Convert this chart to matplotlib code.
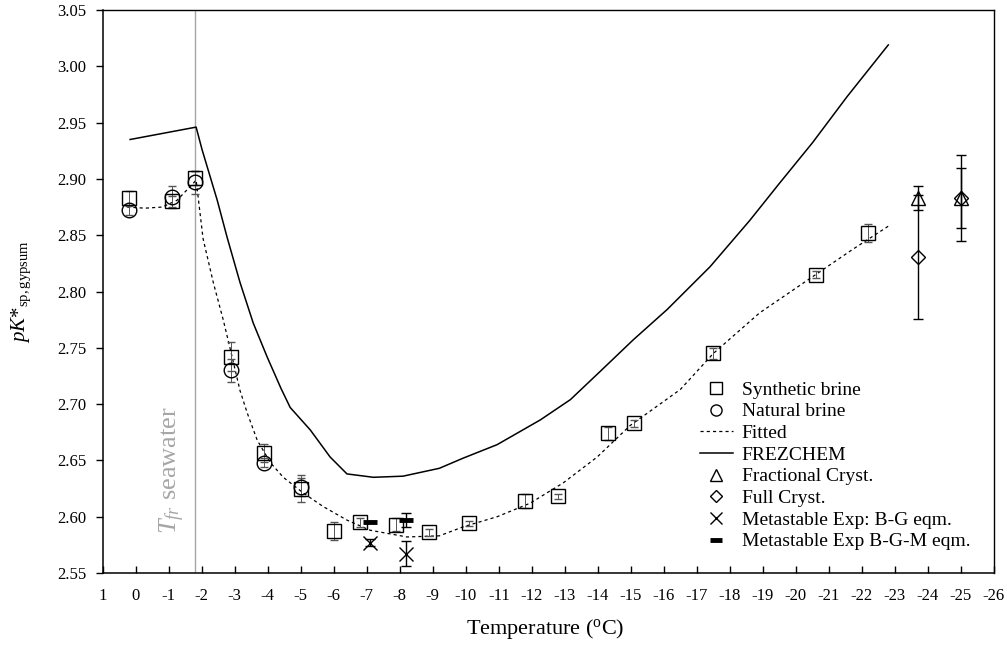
import matplotlib
matplotlib.use("Agg")
import matplotlib.pyplot as plt
from matplotlib.lines import Line2D

plt.rcParams['font.family'] = ['Liberation Serif', 'DejaVu Serif']
plt.rcParams['mathtext.fontset'] = 'custom'
plt.rcParams['mathtext.rm'] = 'Liberation Serif'
plt.rcParams['mathtext.it'] = 'Liberation Serif:italic'
plt.rcParams['mathtext.bf'] = 'Liberation Serif:bold'

# ---------------- data ----------------
syn_T = [0.2, -1.1, -1.8, -2.9, -3.9, -5.0, -6.0, -6.8, -7.9, -8.9, -10.1, -11.8,
         -12.8, -14.3, -15.1, -17.5, -20.6, -22.2]
syn_pK = [2.883, 2.880, 2.901, 2.742, 2.657, 2.625, 2.587, 2.595, 2.593, 2.586, 2.594,
          2.614, 2.618, 2.674, 2.683, 2.745, 2.815, 2.852]
syn_err = [0.006, 0.005, 0.006, 0.013, 0.008, 0.012, 0.008, 0.004, 0.006, 0.003, 0.002,
           0.006, 0.002, 0.006, 0.003, 0.005, 0.003, 0.008]

nat_T = [0.2, -1.1, -1.8, -2.9, -3.9, -5.0]
nat_pK = [2.872, 2.884, 2.897, 2.730, 2.648, 2.626]
nat_err = [0.004, 0.010, 0.010, 0.010, 0.004, 0.008]

frac_T = [-23.7, -25.0]
frac_pK = [2.883, 2.883]
frac_err = [0.011, 0.027]

full_T = [-23.7, -25.0]
full_pK = [2.831, 2.883]
full_err = [0.055, 0.038]

bg_T = [-7.1, -8.2]
bg_pK = [2.577, 2.567]
bg_err = [0.003, 0.011]

bgm_T = [-7.1, -8.2]
bgm_pK = [2.595, 2.597]
bgm_err = [0.0, 0.006]

fit_T = [0.26, -0.28, -0.80, -1.25, -1.74, -1.83, -2.04, -2.35, -2.65, -2.92, -3.16,
         -3.38, -3.68, -4.08, -4.47, -5.08, -5.68, -6.4, -7.1, -8.22, -9.2, -9.92,
         -10.95, -11.95, -12.95, -13.98, -14.98, -16.5, -17.5, -18.9, -20.5, -21.7, -22.8]
fit_pK = [2.875, 2.874, 2.875, 2.881, 2.896, 2.899, 2.847, 2.808, 2.775, 2.742, 2.712,
          2.692, 2.668, 2.648, 2.635, 2.621, 2.609, 2.597, 2.588, 2.582, 2.583, 2.591,
          2.600, 2.612, 2.630, 2.653, 2.681, 2.713, 2.745, 2.781, 2.813, 2.837, 2.858]

frz_T = [0.17, -1.83, -2.01, -2.47, -2.77, -3.16, -3.56, -3.98, -4.40, -4.68, -5.29,
         -5.89, -6.4, -7.2, -8.1, -9.2, -9.92, -10.95, -12.26, -13.17, -14.07, -15.07,
         -16.1, -17.4, -18.6, -19.5, -20.5, -21.55, -22.8]
frz_pK = [2.935, 2.946, 2.926, 2.881, 2.848, 2.808, 2.772, 2.742, 2.714, 2.697, 2.677,
          2.653, 2.638, 2.635, 2.636, 2.643, 2.652, 2.664, 2.686, 2.704, 2.729, 2.757,
          2.784, 2.822, 2.863, 2.896, 2.932, 2.973, 3.019]

T_fr = -1.81
x_ticks = list(range(1, -27, -1))
y_ticks = [2.55, 2.60, 2.65, 2.70, 2.75, 2.80, 2.85, 2.90, 2.95, 3.00, 3.05]

# ---------------- figure ----------------
fig = plt.figure(figsize=(10.07, 6.46), dpi=100)
ax = fig.add_axes([0.102, 0.113, 0.885, 0.8715])

ax.axvline(T_fr, color='#a6a6a6', lw=1.0, zorder=1)
ax.text(T_fr + 0.7, 2.6415, '$T_{fr}$ seawater', rotation=90, color='#a6a6a6',
        fontsize=19, ha='center', va='center')

ax.plot(frz_T, frz_pK, color='black', lw=1.1, zorder=2)
ax.plot(fit_T, fit_pK, color='black', lw=0.9, ls=(0, (2.5, 2.5)), zorder=2)

eb_kw = dict(ecolor='#555555', elinewidth=0.7, capsize=3, capthick=0.7, ls='none')
ax.errorbar(syn_T, syn_pK, yerr=syn_err, fmt='s', ms=10, mfc='none', mec='black',
            mew=1.0, zorder=3, **eb_kw)
ax.errorbar(nat_T, nat_pK, yerr=nat_err, fmt='o', ms=10.5, mfc='none', mec='black',
            mew=1.0, zorder=3, **eb_kw)
eb_kw2 = dict(ecolor='black', elinewidth=1.0, capsize=3.5, capthick=1.0, ls='none')
ax.errorbar(full_T, full_pK, yerr=full_err, fmt='D', ms=7.5, mfc='none', mec='black',
            mew=1.0, zorder=3, **eb_kw2)
ax.errorbar(frac_T, frac_pK, yerr=frac_err, fmt='^', ms=10, mfc='none', mec='black',
            mew=1.0, zorder=3, **eb_kw2)
ax.errorbar(bg_T, bg_pK, yerr=bg_err, fmt='x', ms=10, mec='black', mew=1.0,
            zorder=3, **eb_kw2)
ax.errorbar(bgm_T, bgm_pK, yerr=bgm_err, fmt='none', zorder=3, **eb_kw2)
ax.plot(bgm_T, bgm_pK, ls='none', marker='_', ms=10, mec='black', mew=3.5, zorder=4)

ax.set_xlim(1, -26)
ax.set_ylim(2.55, 3.05)
ax.set_xticks(x_ticks)
ax.set_xticklabels([str(t) for t in x_ticks])
ax.set_yticks(y_ticks)
ax.set_yticklabels(['%.2f' % v for v in y_ticks])
ax.tick_params(axis='x', direction='in', length=5, width=1.0, pad=11, labelsize=12,
               top=False)
ax.tick_params(axis='y', direction='out', length=5, width=1.0, pad=7, labelsize=12,
               right=False)
for s in ax.spines.values():
    s.set_linewidth(1.1)
ax.spines['top'].set_linewidth(1.0)
ax.spines['right'].set_linewidth(1.0)

ax.set_xlabel('Temperature ($^{\\mathrm{o}}$C)', fontsize=16)
ax.xaxis.set_label_coords(0.496, -0.0995)
ax.xaxis.label.set_va('center')
ax.set_ylabel('$pK$*$_{\\mathrm{sp,gypsum}}$', fontsize=15)
ax.yaxis.set_label_coords(-0.091, 0.5)
ax.yaxis.label.set_va('center')

handles = [
    Line2D([], [], marker='s', ms=8, mfc='none', mec='black', mew=1.0, ls='none'),
    Line2D([], [], marker='o', ms=8, mfc='none', mec='black', mew=1.0, ls='none'),
    Line2D([], [], color='black', lw=0.9, ls=(0, (2.5, 2.5))),
    Line2D([], [], color='black', lw=1.1),
    Line2D([], [], marker='^', ms=8, mfc='none', mec='black', mew=1.0, ls='none'),
    Line2D([], [], marker='D', ms=6, mfc='none', mec='black', mew=1.0, ls='none'),
    Line2D([], [], marker='x', ms=9, mec='black', mew=1.0, ls='none'),
    Line2D([], [], marker='_', ms=8, mec='black', mew=3.5, ls='none'),
]
labels = ['Synthetic brine', 'Natural brine', 'Fitted', 'FREZCHEM', 'Fractional Cryst.',
          'Full Cryst.', 'Metastable Exp: B-G eqm.', 'Metastable Exp B-G-M eqm.']
ax.legend(handles, labels, loc='upper left', bbox_to_anchor=(0.670, 0.341),
          frameon=False, fontsize=14, handlelength=1.7, handletextpad=0.45,
          labelspacing=0.21, borderpad=0, borderaxespad=0)

fig.savefig('out.png', dpi=100)
